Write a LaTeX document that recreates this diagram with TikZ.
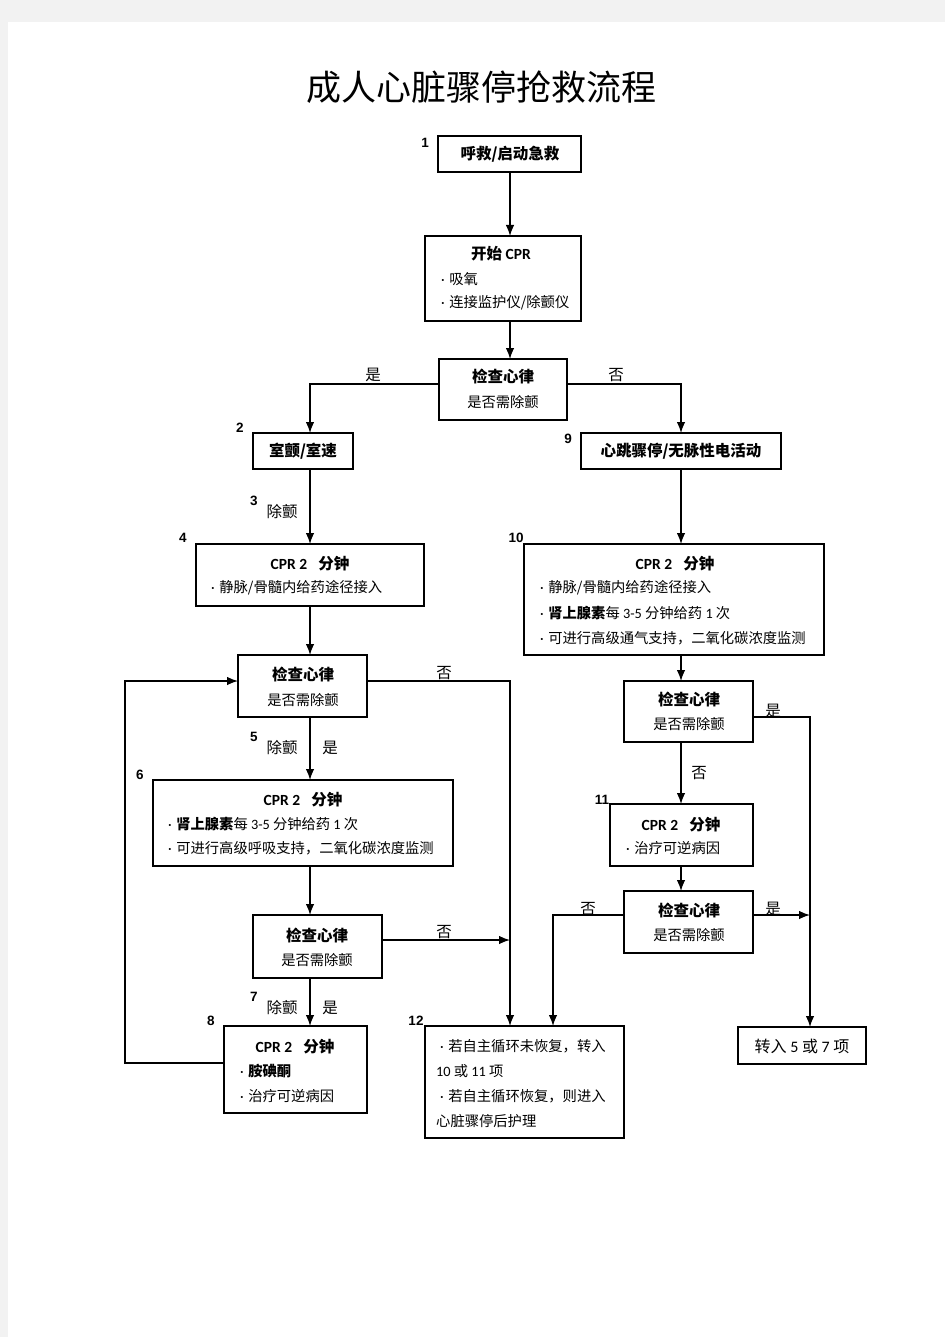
\documentclass[tikz,border=0pt]{standalone}
\usepackage{fontspec}
\setmainfont{Noto Sans CJK SC}
\newfontfamily\lat{Carlito}
\newfontfamily\numf{Liberation Sans}
\usetikzlibrary{arrows.meta,calc}
\newcommand\mybox[5]{\node[box,minimum width=#4pt,minimum height=#5pt] (#1) at (#2,#3) {};}
\newcommand\bul{{\lat\textperiodcentered}\hspace{4.5pt}}
\begin{document}
\begin{tikzpicture}[x=1pt,y=-1pt,
  box/.style={draw=black,line width=1.3pt,fill=white,anchor=north west,inner sep=0pt,outer sep=0pt},
  arr/.style={draw=black,line width=1.3pt,-{Latex[length=11pt,width=8.5pt]}},
  num/.style={font=\numf\bfseries\fontsize{13.5}{15}\selectfont,inner sep=0pt},
  hd/.style={font=\bfseries\fontsize{15.5}{18}\selectfont,inner sep=0pt},
  tx/.style={font=\fontsize{14.3}{16}\selectfont,inner sep=0pt},
  txl/.style={tx,anchor=west},
  lab/.style={font=\fontsize{15.5}{18}\selectfont,inner sep=0pt},
]
\useasboundingbox (0,0) rectangle (945,1337);
\fill[black!5] (0,0) rectangle (945,1337);
\fill[white] (8,22) rectangle (945,1337);

\node[font=\fontsize{35}{40}\selectfont,inner sep=0pt] (title) at (481,87) {成人心脏骤停抢救流程};

% column coordinates
\coordinate (xO) at (125,0);
\coordinate (xL) at (310,0);
\coordinate (xM) at (510,0);
\coordinate (xN) at (553,0);
\coordinate (xR) at (681,0);
\coordinate (xE) at (810,0);

% boxes
\mybox{b1}{438}{136}{143}{36}
\mybox{b2}{425}{236}{156}{85}
\mybox{c1}{439}{359}{128}{61}
\mybox{vf}{253}{433}{100}{36}
\mybox{b9}{581}{433}{200}{36}
\mybox{b4}{196}{544}{228}{62}
\mybox{b10}{524}{544}{300}{111}
\mybox{c2}{238}{655}{129}{62}
\mybox{b6}{153}{780}{300}{86}
\mybox{c3}{253}{915}{129}{63}
\mybox{b8}{224}{1026}{143}{87}
\mybox{b12}{425}{1026}{199}{112}
\mybox{c4}{624}{681}{129}{61}
\mybox{b11}{610}{804}{143}{62}
\mybox{c5}{624}{891}{129}{62}
\mybox{bend}{738}{1027}{128}{37}

% texts
\node[hd] (t1) at (510,154) {呼救/启动急救};
\node[hd] (t2a) at (501,254) {开始 {\lat CPR}};
\node[txl] (t2b) at (441,279) {\bul 吸氧};
\node[txl] (t2c) at (441,303) {\bul 连接监护仪/除颤仪};
\node[hd] (t3a) at (503,377) {检查心律};
\node[tx] (t3b) at (503,402) {是否需除颤};
\node[hd] (tvf) at (303,451) {室颤/室速};
\node[hd] (t9) at (681,451) {心跳骤停/无脉性电活动};
\node[hd] (t4a) at (310,564) {{\lat CPR 2}\hspace{11pt}分钟};
\node[txl] (t4b) at (211,588) {\bul 静脉/骨髓内给药途径接入};
\node[hd] (t10a) at (675,564) {{\lat CPR 2}\hspace{11pt}分钟};
\node[txl] (t10b) at (540,588) {\bul 静脉/骨髓内给药途径接入};
\node[txl] (t10c) at (540,613) {\bul {\bfseries 肾上腺素}每 {\lat 3-5} 分钟给药 {\lat 1} 次};
\node[txl] (t10d) at (540,638) {\bul 可进行高级通气支持，二氧化碳浓度监测};
\node[hd] (tc2a) at (303,675) {检查心律};
\node[tx] (tc2b) at (303,700) {是否需除颤};
\node[hd] (t6a) at (303,800) {{\lat CPR 2}\hspace{11pt}分钟};
\node[txl] (t6b) at (168,824) {\bul {\bfseries 肾上腺素}每 {\lat 3-5} 分钟给药 {\lat 1} 次};
\node[txl] (t6c) at (168,848) {\bul 可进行高级呼吸支持，二氧化碳浓度监测};
\node[hd] (tc3a) at (317,935) {检查心律};
\node[tx] (tc3b) at (317,960) {是否需除颤};
\node[hd] (t8a) at (295,1047) {{\lat CPR 2}\hspace{11pt}分钟};
\node[txl] (t8b) at (240,1071) {\bul {\bfseries 胺碘酮}};
\node[txl] (t8c) at (240,1096) {\bul 治疗可逆病因};
\node[txl] (t12a) at (440,1046) {\bul 若自主循环未恢复，转入};
\node[txl] (t12b) at (436,1071) {{\lat 10} 或 {\lat 11} 项};
\node[txl] (t12c) at (440,1096) {\bul 若自主循环恢复，则进入};
\node[txl] (t12d) at (436,1121) {心脏骤停后护理};
\node[hd] (tc4a) at (689,700) {检查心律};
\node[tx] (tc4b) at (689,724) {是否需除颤};
\node[hd] (t11a) at (681,825) {{\lat CPR 2}\hspace{11pt}分钟};
\node[txl] (t11b) at (626,848) {\bul 治疗可逆病因};
\node[hd] (tc5a) at (689,910) {检查心律};
\node[tx] (tc5b) at (689,935) {是否需除颤};
\node[font=\fontsize{16}{18}\selectfont,inner sep=0pt] (tend) at (802,1046) {转入 {\lat 5} 或 {\lat 7} 项};

% numbers
\node[num] (n1) at (425,143) {1};
\node[num] (n2) at (240,428) {2};
\node[num] (n3) at (254,501) {3};
\node[num] (n4) at (183,538) {4};
\node[num] (n5) at (254,737) {5};
\node[num] (n6) at (140,775) {6};
\node[num] (n7) at (254,997) {7};
\node[num] (n8) at (211,1021) {8};
\node[num] (n9) at (568,439) {9};
\node[num] (n10) at (516,538) {10};
\node[num] (n11) at (602,800) {11};
\node[num] (n12) at (416,1021) {12};

% connectors
\draw[arr] (b1.south -| xM) -- (xM |- b2.north);
\draw[arr] (xM |- b2.south) -- (xM |- c1.north);
\draw[arr] (c1.west |- 0,384) -| (xL |- vf.north);
\draw[arr] (c1.east |- 0,384) -| (xR |- b9.north);
\draw[arr] (xL |- vf.south) -- (xL |- b4.north);
\draw[arr] (xR |- b9.south) -- (xR |- b10.north);
\draw[arr] (xL |- b4.south) -- (xL |- c2.north);
\draw[arr] (c2.east |- 0,681) -| (xM |- b12.north);
\draw[arr] (b8.west |- 0,1063) -| (xO |- 0,681) -- (c2.west |- 0,681);
\draw[arr] (xL |- c2.south) -- (xL |- b6.north);
\draw[arr] (xL |- b6.south) -- (xL |- c3.north);
\draw[arr] (c3.east |- 0,940) -- (xM |- 0,940);
\draw[arr] (xL |- c3.south) -- (xL |- b8.north);
\draw[arr] (xR |- b10.south) -- (xR |- c4.north);
\draw[arr] (c4.east |- 0,717) -| (xE |- bend.north);
\draw[arr] (xR |- c4.south) -- (xR |- b11.north);
\draw[arr] (xR |- b11.south) -- (xR |- c5.north);
\draw[arr] (c5.west |- 0,915) -| (xN |- b12.north);
\draw[arr] (c5.east |- 0,915) -- (xE |- 0,915);

% connector labels
\node[lab] (l1) at (373,375) {是};
\node[lab] (l2) at (616,375) {否};
\node[lab] (l3) at (282,512) {除颤};
\node[lab] (l4) at (444,673) {否};
\node[lab] (l5) at (282,748) {除颤};
\node[lab] (l6) at (330,748) {是};
\node[lab] (l7) at (444,932) {否};
\node[lab] (l8) at (282,1008) {除颤};
\node[lab] (l9) at (330,1008) {是};
\node[lab] (l10) at (773,711) {是};
\node[lab] (l11) at (699,773) {否};
\node[lab] (l12) at (588,909) {否};
\node[lab] (l13) at (773,909) {是};
\end{tikzpicture}
\end{document}
